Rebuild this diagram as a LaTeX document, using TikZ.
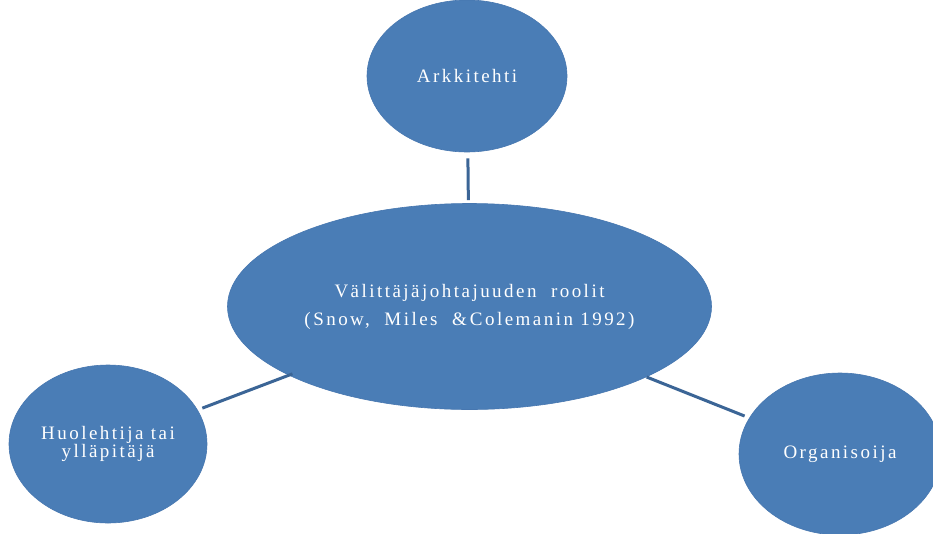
\documentclass[tikz,border=0pt]{standalone}
\usepackage{fontspec}
\setmainfont{Liberation Serif}[LetterSpace=13]
\usetikzlibrary{shapes.geometric}
\definecolor{bubble}{HTML}{4A7DB6}
\definecolor{bubbleedge}{HTML}{4777B0}
\definecolor{link}{HTML}{3B6596}
\begin{document}
\begin{tikzpicture}[x=1pt,y=-1pt,
  bubble/.style={ellipse, fill=bubble, draw=bubbleedge, line width=0.6pt,
    inner sep=0pt, text=white, align=center, font=\fontsize{19}{21}\selectfont},
  link/.style={draw=link, line width=3pt}]
  \useasboundingbox (0,0) rectangle (933,533);
  \clip (0,0) rectangle (933,533);
  \fill[white] (0,0) rectangle (933,533);

  \node[bubble, minimum width=200pt, minimum height=152pt] (arch) at (467,76) {Arkkitehti};
  \node[bubble, minimum width=484pt, minimum height=206pt] (hub) at (469.5,306.5)
    {V\"alitt\"aj\"ajohtajuuden\ \ roolit\\[7pt](Snow,\ \ Miles\ \ \&\,Colemanin 1992)};
  \node[bubble, minimum width=198pt, minimum height=158pt] (care) at (108,444)
    {Huolehtija tai\\[-3pt]yll\"apit\"aj\"a};
  \node[bubble, minimum width=202pt, minimum height=162pt] (org) at (840,454) {Organisoija};

  \draw[link, shorten <=6pt, shorten >=3pt] (arch) -- (hub);
  \draw[link, shorten <=5pt, shorten >=-4pt] (care) -- (hub);
  \draw[link, shorten <=5pt, shorten >=0pt] (org) -- (hub);
\end{tikzpicture}
\end{document}
